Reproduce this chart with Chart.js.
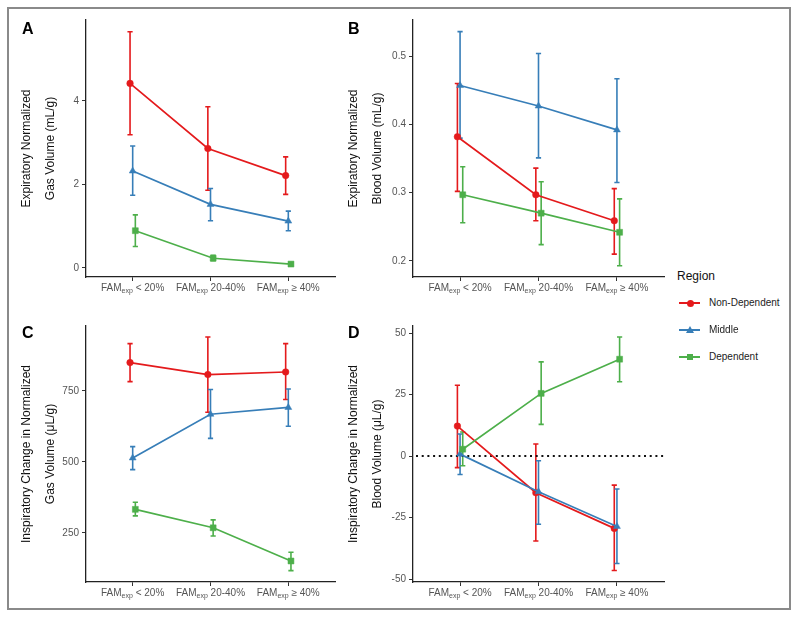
<!DOCTYPE html>
<html>
<head>
<meta charset="utf-8">
<script src="https://cdn.jsdelivr.net/npm/chart.js@4.4.1/dist/chart.umd.min.js"></script>
<style>
  html, body { margin: 0; padding: 0; background: #fff; }
  body { width: 800px; height: 619px; position: relative; overflow: hidden;
         font-family: "Liberation Sans", Arial, sans-serif; }
  #frame { position: absolute; left: 7px; top: 7px; width: 784px; height: 603px;
           border: 2px solid #8a8a8a; box-sizing: border-box; }
  .panel { position: absolute; }
  .plabel { position: absolute; font-weight: bold; font-size: 16px; line-height: 16px; color: #000; }
  #legend { position: absolute; left: 676px; top: 266px; width: 110px; }
  #legend .ttl { position: absolute; left: 1px; top: 3px; font-size: 12px; color: #111; white-space: nowrap; }
  #legend .row { position: absolute; left: 0; height: 12px; width: 110px; }
  #legend .ln { position: absolute; left: 3px; top: 5px; width: 21px; height: 2px; }
  #legend .mk { position: absolute; }
  #legend .tx { position: absolute; left: 33px; top: 0; font-size: 10px; line-height: 12px; color: #222; white-space: nowrap; }
</style>
</head>
<body>
<div id="frame"></div>
<div class="panel" style="left:0px;top:0px;width:345px;height:300px"><canvas id="cA" width="345" height="300"></canvas></div>
<div class="panel" style="left:327px;top:0px;width:347px;height:300px"><canvas id="cB" width="347" height="300"></canvas></div>
<div class="panel" style="left:0px;top:306px;width:345px;height:299px"><canvas id="cC" width="345" height="299"></canvas></div>
<div class="panel" style="left:327px;top:306px;width:347px;height:299px"><canvas id="cD" width="347" height="299"></canvas></div>
<div class="plabel" style="left:22px;top:21px">A</div>
<div class="plabel" style="left:348px;top:21px">B</div>
<div class="plabel" style="left:22px;top:325px">C</div>
<div class="plabel" style="left:348px;top:325px">D</div>
<div id="legend"></div>
<script>
// ---------- categories & series ----------
const catMain = ['FAM', 'FAM', 'FAM'];
const catSub = ['exp', 'exp', 'exp'];
const catRest = [' < 20%', ' 20-40%', ' \u2265 40%'];
const legendTitle = 'Region';
const regionNames = ['Non-Dependent', 'Middle', 'Dependent'];

// Panel A: Expiratory normalized gas volume (mL/g)
const A_nonDep   = [4.42, 2.86, 2.21];
const A_nonDepLo = [3.19, 1.86, 1.76];
const A_nonDepHi = [5.66, 3.86, 2.66];
const A_middle   = [2.32, 1.52, 1.12];
const A_middleLo = [1.74, 1.13, 0.89];
const A_middleHi = [2.92, 1.90, 1.36];
const A_dep      = [0.89, 0.23, 0.09];
const A_depLo    = [0.51, 0.17, 0.06];
const A_depHi    = [1.27, 0.30, 0.12];

// Panel B: Expiratory normalized blood volume (mL/g)
const B_nonDep   = [0.382, 0.297, 0.259];
const B_nonDepLo = [0.302, 0.259, 0.210];
const B_nonDepHi = [0.460, 0.336, 0.306];
const B_middle   = [0.457, 0.427, 0.392];
const B_middleLo = [0.380, 0.351, 0.315];
const B_middleHi = [0.536, 0.504, 0.467];
const B_dep      = [0.297, 0.270, 0.242];
const B_depLo    = [0.256, 0.224, 0.193];
const B_depHi    = [0.338, 0.316, 0.291];

// Panel C: Inspiratory change in normalized gas volume (µL/g)
const C_nonDep   = [850, 808, 817];
const C_nonDepLo = [783, 675, 720];
const C_nonDepHi = [917, 940, 917];
const C_middle   = [514, 668, 692];
const C_middleLo = [473, 583, 626];
const C_middleHi = [554, 755, 757];
const C_dep      = [333, 268, 151];
const C_depLo    = [310, 239, 117];
const C_depHi    = [358, 296, 182];

// Panel D: Inspiratory change in normalized blood volume (µL/g)
const D_nonDep   = [12.2, -14.9, -29.4];
const D_nonDepLo = [-4.7, -34.5, -46.5];
const D_nonDepHi = [28.8, 4.9, -11.8];
const D_middle   = [0.8, -14.5, -28.6];
const D_middleLo = [-7.5, -27.7, -43.7];
const D_middleHi = [9.0, -1.9, -13.4];
const D_dep      = [2.8, 25.5, 39.4];
const D_depLo    = [-3.9, 12.9, 30.2];
const D_depHi    = [9.8, 38.3, 48.4];

// tick labels
const yTicksA = [0, 2, 4];
const yTickLabelsA = ['0', '2', '4'];
const yTicksB = [0.2, 0.3, 0.4, 0.5];
const yTickLabelsB = ['0.2', '0.3', '0.4', '0.5'];
const yTicksC = [250, 500, 750];
const yTickLabelsC = ['250', '500', '750'];
const yTicksD = [-50, -25, 0, 25, 50];
const yTickLabelsD = ['-50', '-25', '0', '25', '50'];
const refLineD = 0;

// ---------- styles ----------
const colors = ['#E41A1C', '#377EB8', '#4DAF4A'];
const shapes = ['circle', 'triangle', 'rect'];
const radii = [3.3, 4.0, 4.2];
const dodge = [-0.034, 0, 0.034];
const drawOrder = [2, 1, 0];

Chart.defaults.font.family = '"Liberation Sans", Arial, sans-serif';

const errorBarPlugin = {
  id: 'errorBars',
  beforeDatasetsDraw(chart) {
    const ctx = chart.ctx;
    const ys = chart.scales.y;
    chart.data.datasets.forEach((ds, di) => {
      const meta = chart.getDatasetMeta(di);
      ctx.save();
      ctx.strokeStyle = ds.borderColor;
      ctx.lineWidth = 1.6;
      meta.data.forEach((pt, i) => {
        const x = pt.x;
        const yl = ys.getPixelForValue(ds.errLo[i]);
        const yh = ys.getPixelForValue(ds.errHi[i]);
        ctx.beginPath();
        ctx.moveTo(x, yl); ctx.lineTo(x, yh);
        ctx.moveTo(x - 2.6, yl); ctx.lineTo(x + 2.6, yl);
        ctx.moveTo(x - 2.6, yh); ctx.lineTo(x + 2.6, yh);
        ctx.stroke();
      });
      ctx.restore();
    });
  }
};

const refLinePlugin = {
  id: 'refLine',
  beforeDatasetsDraw(chart, args, opts) {
    if (opts.value === undefined || opts.value === null) return;
    const ctx = chart.ctx;
    const y = chart.scales.y.getPixelForValue(opts.value);
    const a = chart.chartArea;
    ctx.save();
    ctx.strokeStyle = '#111';
    ctx.lineWidth = 2;
    ctx.setLineDash([2, 3.7]);
    ctx.beginPath();
    ctx.moveTo(a.left + 3, y); ctx.lineTo(a.right, y);
    ctx.stroke();
    ctx.restore();
  }
};

const famLabelPlugin = {
  id: 'famLabels',
  afterDraw(chart) {
    const ctx = chart.ctx;
    const xs = chart.scales.x;
    const base = chart.chartArea.bottom + 14;
    ctx.save();
    ctx.fillStyle = '#555';
    ctx.textBaseline = 'alphabetic';
    ctx.textAlign = 'left';
    const fMain = '10px "Liberation Sans", Arial, sans-serif';
    const fSub = '7px "Liberation Sans", Arial, sans-serif';
    catMain.forEach((m, i) => {
      ctx.font = fMain; const w1 = ctx.measureText(m).width;
      ctx.font = fSub;  const w2 = ctx.measureText(catSub[i]).width;
      ctx.font = fMain; const w3 = ctx.measureText(catRest[i]).width;
      const cx = xs.getPixelForValue(i + 1);
      let x = cx - (w1 + w2 + w3) / 2;
      ctx.font = fMain; ctx.fillText(m, x, base); x += w1;
      ctx.font = fSub;  ctx.fillText(catSub[i], x, base + 1.5); x += w2;
      ctx.font = fMain; ctx.fillText(catRest[i], x, base);
    });
    ctx.restore();
  }
};

function makePanel(id, means, los, his, yTitle, yMin, yMax, yTicks, yTickLabels, ref) {
  const datasets = means.map((m, s) => ({
    label: regionNames[s],
    data: m.map((v, i) => ({ x: i + 1 + dodge[s], y: v })),
    errLo: los[s],
    errHi: his[s],
    borderColor: colors[s],
    backgroundColor: colors[s],
    pointBackgroundColor: colors[s],
    pointBorderColor: colors[s],
    pointBorderWidth: 0.5,
    pointStyle: shapes[s],
    pointRadius: radii[s],
    borderWidth: 1.7,
    tension: 0,
    order: drawOrder[s]
  }));
  const axisGrid = { display: true, drawOnChartArea: false, drawTicks: true, tickLength: 4, color: '#333', lineWidth: 1 };
  const axisBorder = { display: true, color: '#222', width: 1.3 };
  new Chart(document.getElementById(id), {
    type: 'line',
    data: { datasets },
    options: {
      responsive: false,
      animation: false,
      events: [],
      layout: { padding: { left: 0, top: 20, right: 10, bottom: 0 } },
      plugins: { legend: { display: false }, tooltip: { enabled: false }, refLine: { value: ref } },
      scales: {
        x: {
          type: 'linear', min: 0.4, max: 3.6,
          afterBuildTicks: s => { s.ticks = catMain.map((_, i) => ({ value: i + 1 })); },
          afterFit: s => { s.height = 23; },
          ticks: { display: false },
          grid: axisGrid,
          border: axisBorder
        },
        y: {
          type: 'linear', min: yMin, max: yMax,
          afterBuildTicks: s => { s.ticks = yTicks.map(v => ({ value: v })); },
          afterFit: s => { s.width = 86; },
          ticks: {
            callback: v => yTickLabels[yTicks.indexOf(v)],
            color: '#555', font: { size: 10 }, padding: 3
          },
          grid: axisGrid,
          border: axisBorder,
          title: {
            display: true, text: yTitle, color: '#111',
            font: { size: 12, lineHeight: 1.95 },
            padding: { top: 15.3, bottom: 0 }
          }
        }
      }
    },
    plugins: [errorBarPlugin, refLinePlugin, famLabelPlugin]
  });
}

makePanel('cA', [A_nonDep, A_middle, A_dep], [A_nonDepLo, A_middleLo, A_depLo], [A_nonDepHi, A_middleHi, A_depHi],
  ['Expiratory Normalized', 'Gas Volume (mL/g)'], -0.22, 5.94, yTicksA, yTickLabelsA, null);
makePanel('cB', [B_nonDep, B_middle, B_dep], [B_nonDepLo, B_middleLo, B_depLo], [B_nonDepHi, B_middleHi, B_depHi],
  ['Expiratory Normalized', 'Blood Volume (mL/g)'], 0.1765, 0.553, yTicksB, yTickLabelsB, null);
makePanel('cC', [C_nonDep, C_middle, C_dep], [C_nonDepLo, C_middleLo, C_depLo], [C_nonDepHi, C_middleHi, C_depHi],
  ['Inspiratory Change in Normalized', 'Gas Volume (\u03BCL/g)'], 77, 979, yTicksC, yTickLabelsC, null);
makePanel('cD', [D_nonDep, D_middle, D_dep], [D_nonDepLo, D_middleLo, D_depLo], [D_nonDepHi, D_middleHi, D_depHi],
  ['Inspiratory Change in Normalized', 'Blood Volume (\u03BCL/g)'], -51.2, 52.9, yTicksD, yTickLabelsD, refLineD);

// ---------- legend ----------
(function buildLegend() {
  const lg = document.getElementById('legend');
  const t = document.createElement('div');
  t.className = 'ttl'; t.textContent = legendTitle; lg.appendChild(t);
  const rowTops = [31, 58, 85];
  regionNames.forEach((name, s) => {
    const row = document.createElement('div');
    row.className = 'row'; row.style.top = rowTops[s] + 'px';
    const ln = document.createElement('div');
    ln.className = 'ln'; ln.style.background = colors[s]; row.appendChild(ln);
    const mk = document.createElement('div');
    mk.className = 'mk';
    if (shapes[s] === 'circle') {
      Object.assign(mk.style, { left: '10.5px', top: '2.5px', width: '7px', height: '7px', borderRadius: '50%', background: colors[s] });
    } else if (shapes[s] === 'triangle') {
      Object.assign(mk.style, { left: '10px', top: '1.5px', width: '0', height: '0',
        borderLeft: '4px solid transparent', borderRight: '4px solid transparent', borderBottom: '7px solid ' + colors[s] });
    } else {
      Object.assign(mk.style, { left: '11px', top: '3px', width: '6px', height: '6px', background: colors[s] });
    }
    row.appendChild(mk);
    const tx = document.createElement('div');
    tx.className = 'tx'; tx.textContent = name; row.appendChild(tx);
    lg.appendChild(row);
  });
})();
</script>
</body>
</html>
